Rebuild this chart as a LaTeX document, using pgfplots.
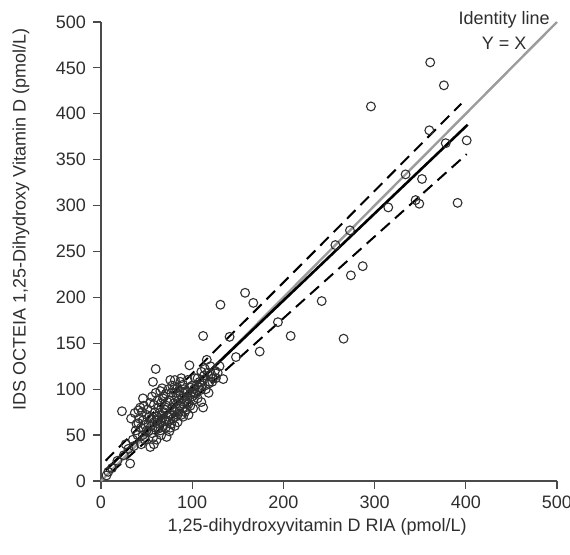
\documentclass[border=0pt]{standalone}
\usepackage{fontspec}
\setmainfont{Liberation Sans}
\usepackage{pgfplots}
\pgfplotsset{compat=1.18}

\definecolor{axisgray}{HTML}{4A4A4A}
\definecolor{labelgray}{HTML}{2E2E2E}
\definecolor{idgray}{HTML}{9C9C9C}
\definecolor{ptgray}{HTML}{303030}

% measured values: RIA (x) vs IDS OCTEIA (y), pmol/L
\pgfplotstableread{
x y
361 456
376 431
296 408
360 382
378 368
401 371
334 334
352 329
345 306
349 302
391 303
315 298
273 273
257 257
158 205
167 194
242 196
274 224
287 234
194 173
208 158
266 155
174 141
148 135
131 192
112 158
141 157
60 122
23 76
32 19
6 6
8 10
112 80
134 111
97 126
54 37
81 60
116 132
120 125
110 119
81 110
90 105
103 112
123 112
109 99
118 96
98 94
87 94
110 86
101 88
94 85
57 108
76 110
87 108
67 101
46 90
41 77
54 85
68 90
83 92
94 96
79 77
90 70
61 70
46 66
72 66
101 79
33 68
37 74
43 80
41 63
48 61
52 54
46 50
57 47
61 45
63 57
70 65
66 72
55 68
50 72
75 54
44 58
48 45
50 55
52 62
55 60
56 52
58 64
59 75
60 58
62 66
63 80
64 62
65 55
66 85
67 68
68 60
69 75
70 78
71 58
72 82
73 70
74 65
75 88
76 72
77 62
78 80
79 68
80 85
81 75
82 70
83 79
84 64
85 88
86 76
87 82
88 72
89 90
90 80
91 86
92 75
93 98
94 78
95 90
96 84
97 102
99 96
100 92
102 100
104 95
105 105
106 90
108 108
111 104
113 115
115 100
117 118
119 108
121 116
125 120
128 118
130 125
35 45
38 55
40 50
42 68
44 40
30 35
25 28
27 40
36 38
12 14
18 22
39 62
45 75
47 82
51 78
53 70
56 92
58 83
60 96
62 88
64 74
65 98
69 92
71 95
73 86
74 100
77 96
78 104
80 100
82 96
84 102
86 98
88 112
91 100
95 110
96 72
98 82
100 104
103 96
106 112
107 102
112 110
114 122
118 106
122 108
126 112
58 40
66 50
72 48
76 58
84 72
}\pointdata

\begin{document}
\begin{tikzpicture}
\useasboundingbox (-50.5pt,-37pt) rectangle (234.5pt,240.5pt);
\begin{axis}[
  at={(0,0)}, anchor=south west,
  scale only axis, width=228pt, height=229.5pt,
  xmin=0, xmax=500, ymin=0, ymax=500,
  axis lines*=left,
  xtick={0,100,...,500}, ytick={0,50,...,500},
  tick align=outside, major tick length=4pt,
  tick style={color=axisgray, line width=0.6pt},
  axis line style={color=axisgray, line width=0.8pt},
  ticklabel style={font=\fontsize{9}{10}\selectfont, text=labelgray},
  /pgf/number format/assume math mode=true,
  xlabel={1,25-dihydroxyvitamin D RIA (pmol/L)},
  ylabel={IDS OCTEIA 1,25-Dihydroxy Vitamin D (pmol/L)},
  label style={font=\fontsize{9}{10}\selectfont, text=labelgray},
  xlabel style={at={(axis description cs:0.474,0)}, anchor=center, yshift=-23pt},
  ylabel style={at={(axis description cs:0,0.57)}, anchor=center, yshift=40pt},
  clip=false,
]
\addplot[only marks, mark=o, mark size=2.2pt,
  mark options={draw=ptgray, line width=0.55pt}] table {\pointdata};
\addplot[idgray, line width=1.2pt] coordinates {(0,0) (500,500)};
\addplot[black, line width=1.3pt] coordinates {(5,11.7) (402,388)};
\addplot[black, line width=1pt, dash pattern=on 6pt off 3.5pt] coordinates {(5,22) (100,117) (230,246) (395,411)};
\addplot[black, line width=1pt, dash pattern=on 6pt off 3.5pt] coordinates {(12,10) (100,88) (230,204) (401,356)};
\node[font=\fontsize{9}{10}\selectfont, text=labelgray] at (axis cs:442,502) {Identity line};
\node[font=\fontsize{9}{10}\selectfont, text=labelgray] at (axis cs:442,477) {Y = X};
\end{axis}
\end{tikzpicture}
\end{document}
